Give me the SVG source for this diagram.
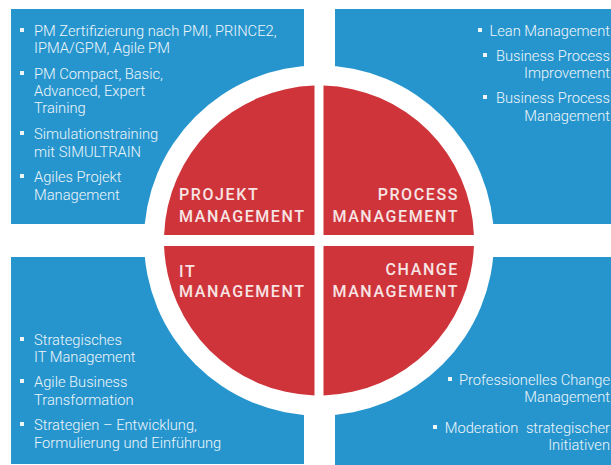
<svg xmlns="http://www.w3.org/2000/svg" width="611" height="465" viewBox="0 0 611 465">
<style>
.bg{fill:#2795cd}
.q{fill:#cf343a}
.t{font-family:Roboto,"Liberation Sans",sans-serif;font-weight:300;font-size:14.7px;fill:#eef5fb}
.e{text-anchor:end}
.l{font-family:Roboto,"Liberation Sans",sans-serif;font-weight:500;font-size:16px;letter-spacing:1.6px;fill:#f7e4e4}
.b{fill:#eef5fb}
</style>
<rect width="611" height="465" fill="#ffffff"/>
<rect class="bg" x="11" y="9" width="293" height="215"/>
<rect class="bg" x="335" y="9" width="276" height="215"/>
<rect class="bg" x="11" y="257" width="293" height="207"/>
<rect class="bg" x="335" y="257" width="276" height="208"/>
<circle cx="319" cy="240.5" r="175" fill="#ffffff"/>
<g id="connectors"/>
<g id="projekt">
<path class="q" d="M314.5,85.6 L314.5,235 L164.1,235 A155,155 0 0,1 314.5,85.6 Z"/>
<text class="l" x="179" y="200">PROJEKT</text>
<text class="l" x="179" y="222">MANAGEMENT</text>
<rect class="b" x="20" y="28" width="4" height="4"/>
<text class="t" x="34" y="36">PM Zertifizierung nach PMI, PRINCE2,</text>
<text class="t" x="34" y="53">IPMA/GPM, Agile PM</text>
<rect class="b" x="20" y="71" width="4" height="4"/>
<text class="t" x="34" y="79">PM Compact, Basic,</text>
<text class="t" x="34" y="96">Advanced, Expert</text>
<text class="t" x="34" y="113">Training</text>
<rect class="b" x="20" y="131" width="4" height="4"/>
<text class="t" x="34" y="139">Simulationstraining</text>
<text class="t" x="34" y="157">mit SIMULTRAIN</text>
<rect class="b" x="20" y="174" width="4" height="4"/>
<text class="t" x="34" y="182">Agiles Projekt</text>
<text class="t" x="34" y="200">Management</text>
</g>
<g id="process">
<path class="q" d="M323.5,85.6 A155,155 0 0,1 473.9,235 L323.5,235 Z"/>
<text class="l e" x="459" y="200">PROCESS</text>
<text class="l e" x="459" y="222">MANAGEMENT</text>
<rect class="b" x="478" y="28" width="4" height="4"/>
<text class="t e" x="610" y="36">Lean Management</text>
<rect class="b" x="483" y="53" width="4" height="4"/>
<text class="t e" x="610" y="61">Business Process</text>
<text class="t e" x="610" y="78">Improvement</text>
<rect class="b" x="483" y="95" width="4" height="4"/>
<text class="t e" x="610" y="103">Business Process</text>
<text class="t e" x="610" y="121">Management</text>
</g>
<g id="it">
<path class="q" d="M164.1,246 L314.5,246 L314.5,395.4 A155,155 0 0,1 164.1,246 Z"/>
<text class="l" x="179" y="277">IT</text>
<text class="l" x="179" y="297">MANAGEMENT</text>
<rect class="b" x="20" y="337" width="4" height="4"/>
<text class="t" x="34" y="345">Strategisches</text>
<text class="t" x="34" y="362">IT Management</text>
<rect class="b" x="20" y="379" width="4" height="4"/>
<text class="t" x="34" y="387">Agile Business</text>
<text class="t" x="34" y="405">Transformation</text>
<rect class="b" x="20" y="422" width="4" height="4"/>
<text class="t" x="34" y="430">Strategien – Entwicklung,</text>
<text class="t" x="34" y="448">Formulierung und Einführung</text>
</g>
<g id="change">
<path class="q" d="M323.5,246 L473.9,246 A155,155 0 0,1 323.5,395.4 Z"/>
<text class="l e" x="459" y="275">CHANGE</text>
<text class="l e" x="459" y="297">MANAGEMENT</text>
<rect class="b" x="448" y="377" width="4" height="4"/>
<text class="t e" x="610" y="385">Professionelles Change</text>
<text class="t e" x="610" y="402">Management</text>
<rect class="b" x="433" y="425" width="4" height="4"/>
<text class="t e" x="610" y="433" word-spacing="4">Moderation strategischer</text>
<text class="t e" x="610" y="450">Initiativen</text>
</g>
</svg>
